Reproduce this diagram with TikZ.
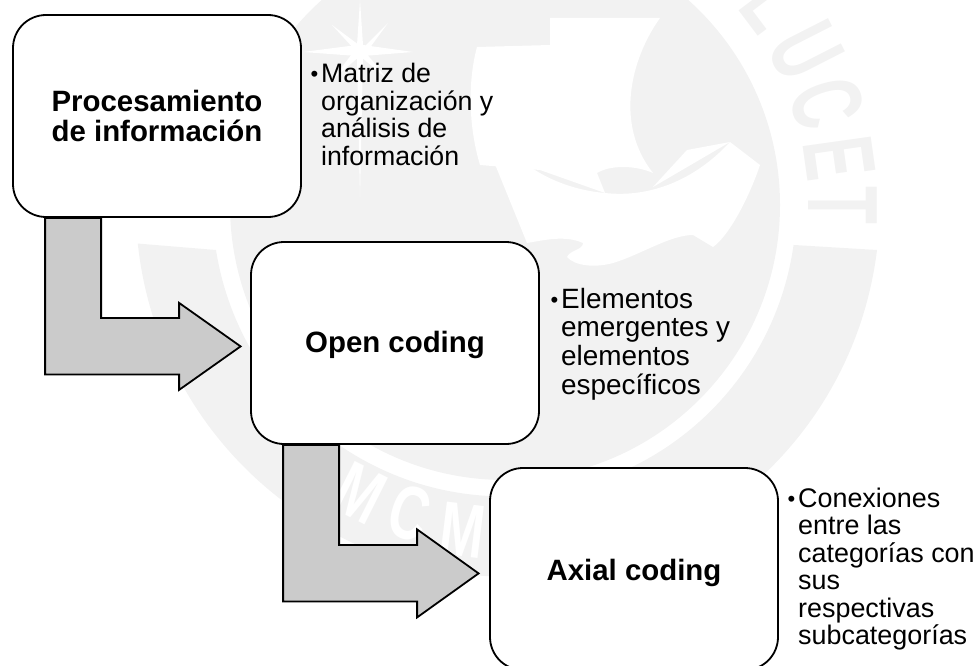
\documentclass[tikz,border=0pt]{standalone}
\usepackage{fontspec}
\setmainfont{Liberation Sans}
\definecolor{wm}{HTML}{F2F2F2}
\definecolor{arrowfill}{HTML}{CBCBCB}
\newcommand{\headfont}{\fontsize{29.4}{30}\selectfont\bfseries}
\newcommand{\bul}{\llap{\raisebox{0.6pt}{\fontsize{22}{22}\selectfont •}\hspace{3pt}}}
\tikzset{
  x=1pt,y=1pt,
  box/.style={draw=black,line width=1.8pt,fill=white,rounded corners=33pt,minimum width=288pt,minimum height=202pt,inner sep=0pt,align=center,font=\headfont},
  bendarrow/.style={draw=black,line width=1.8pt,fill=arrowfill,line join=miter},
  note/.style={anchor=north west,inner sep=0pt,align=left},
  wmwhite/.style={fill=white,draw=none},
}
\begin{document}
\begin{tikzpicture}
\useasboundingbox (0,0) rectangle (975,-666);
\clip (0,0) rectangle (975,-666);
% --- watermark seal ---
\coordinate (sc) at (505,-205);
\fill[wm] (sc) circle[radius=275];
% lower ring band
\fill[wm] (877,-250) arc[start angle=-7,end angle=-174,radius=372] -- (216,-250) arc[start angle=-171,end angle=-8,radius=292] -- cycle;
% star
\fill[white] (360,0) -- (363,-45) -- (413,-52) -- (363,-56) -- (360,-197) -- (357,-56) -- (303,-52) -- (357,-45) -- cycle;
\fill[white] (332,-25) -- (363,-48) -- (388,-23) -- (366,-53) -- (388,-80) -- (360,-56) -- (332,-80) -- (355,-50) -- cycle;
% ship
\path[wmwhite] (477,-47) -- (550,-45) -- (550,-18) -- (660,-18) .. controls (630,-60) and (615,-125) .. (653,-173)
  .. controls (635,-165) and (610,-165) .. (597,-173) -- (605,-193) -- (540,-170) -- (480,-165) .. controls (468,-125) and (468,-80) .. (477,-47) -- cycle;
\path[wmwhite] (488,-147) -- (503,-142) .. controls (530,-175) and (570,-190) .. (605,-193)
  .. controls (650,-198) and (695,-180) .. (730,-142) -- (760,-165) .. controls (750,-195) and (730,-235) .. (713,-247)
  -- (693,-235) .. controls (670,-235) and (640,-255) .. (613,-263) .. controls (595,-268) and (575,-266) .. (567,-257)
  .. controls (570,-250) and (583,-250) .. (583,-243) .. controls (565,-235) and (545,-240) .. (527,-243) -- cycle;
\path[wmwhite] (687,-150) -- (730,-142) -- (653,-187) -- cycle;
% letters
\foreach \l/\a in {T/0,E/8,C/17.5,U/27,L/37}{
  \node[text=wm,font=\fontsize{100}{100}\selectfont\bfseries,inner sep=0pt,rotate=\a-90,xscale=.62] at ([shift={(\a:338)}]sc) {\l};
}
\foreach \l/\a/\p in {M/-26.7/{360,-493},C/-17/{410,-513},M/-7/{463,-530}}{
  \node[text=white,font=\fontsize{76}{76}\selectfont\bfseries,inner sep=0pt,rotate=\a,xscale=.7] at (\p) {\l};
}
% --- diagram ---
\node[box] (b1) at (157,-116) {Procesamiento\\de información};
\node[box] (b2) at (395,-343) {\raisebox{-9pt}[0pt][0pt]{Open coding}};
\node[box] (b3) at (634,-569) {\raisebox{-11pt}[0pt][0pt]{Axial coding}};
\draw[bendarrow] ([xshift=33pt]b1.south west) -- ++(0,-156.5) -- ++(134,0) -- ++(0,-15.5) -- ++(61.5,43.5) -- ++(-61.5,43.5) -- ++(0,-15) -- ++(-78,0) -- ++(0,100) -- cycle;
\draw[bendarrow] ([xshift=33pt]b2.south west) -- ++(0,-156.5) -- ++(134,0) -- ++(0,-16) -- ++(61.5,44) -- ++(-61.5,44) -- ++(0,-15.5) -- ++(-78,0) -- ++(0,100) -- cycle;
\node[note,font=\fontsize{26.7}{27.5}\selectfont] (n1) at (321,-63) {\bul Matriz de\\organización y\\análisis de\\información};
\node[note,font=\fontsize{27.9}{28.7}\selectfont] (n2) at (561,-287.7) {\bul Elementos\\emergentes y\\elementos\\específicos};
\node[note,font=\fontsize{26.9}{27.4}\selectfont] (n3) at (798,-487.8) {\bul Conexiones\\entre las\\categorías con\\sus\\respectivas\\subcategorías};
\end{tikzpicture}
\end{document}
